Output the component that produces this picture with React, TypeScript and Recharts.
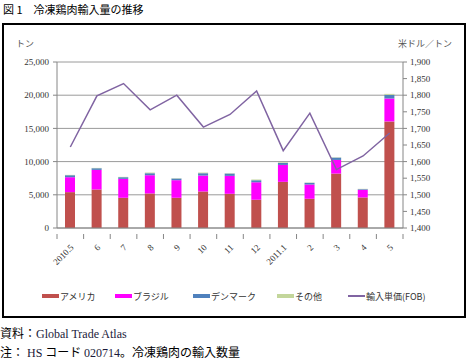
import React from 'react';
import { ComposedChart, Bar, Line, XAxis, YAxis, CartesianGrid, Legend } from 'recharts';

const months = ['2010.5', '6', '7', '8', '9', '10', '11', '12', '2011.1', '2', '3', '4', '5'];
const america = [5400, 5800, 4550, 5200, 4550, 5500, 5150, 4250, 6950, 4400, 8200, 4600, 16050];
const brazil = [2250, 2950, 2850, 2750, 2650, 2400, 2700, 2650, 2550, 2150, 2050, 1150, 3450];
const denmark = [300, 250, 250, 300, 250, 350, 350, 300, 300, 250, 350, 100, 550];
const others = [50, 50, 50, 100, 50, 100, 50, 100, 100, 50, 50, 50, 150];
const unitPrice = [1644, 1798, 1835, 1756, 1800, 1704, 1742, 1813, 1633, 1746, 1576, 1617, 1686];
const leftTicks = [0, 5000, 10000, 15000, 20000, 25000];
const rightTicks = [1400, 1450, 1500, 1550, 1600, 1650, 1700, 1750, 1800, 1850, 1900];

const data = months.map((m, i) => ({
  month: m,
  america: america[i],
  brazil: brazil[i],
  denmark: denmark[i],
  others: others[i],
  price: unitPrice[i],
}));

const JP = '"Noto Sans CJK JP", "Noto Sans", sans-serif';
const SERIF = '"Liberation Serif", "DejaVu Serif", serif';
const AX = '#868686';

const fmt = (v: number) => v.toLocaleString('en-US');

const XTick = (props: any) => {
  const { x, y, payload, index } = props;
  const half = payload && payload.offset ? payload.offset : 13.3;
  return (
    <g>
      <line x1={x - half} y1={y - 2} x2={x - half} y2={y + 3} stroke={AX} />
      {index === months.length - 1 ? (
        <line x1={x + half} y1={y - 2} x2={x + half} y2={y + 3} stroke={AX} />
      ) : null}
      <text
        x={x + 4}
        y={y + 12}
        textAnchor="end"
        transform={`rotate(-45, ${x + 4}, ${y + 12})`}
        fontSize={9}
        fontFamily={SERIF}
        fill="#333"
      >
        {payload.value}
      </text>
    </g>
  );
};

const legendItems = [
  { label: 'アメリカ', color: '#C0504D', type: 'rect', left: 38 },
  { label: 'ブラジル', color: '#FF00FF', type: 'rect', left: 111 },
  { label: 'デンマーク', color: '#4F81BD', type: 'rect', left: 189 },
  { label: 'その他', color: '#C3D69B', type: 'rect', left: 273 },
  { label: '輸入単価(FOB)', color: '#8064A2', type: 'line', left: 344 },
];

const LegendContent = () => (
  <div style={{ position: 'relative', height: 16, width: 462 }}>
    {legendItems.map((it) => (
      <div
        key={it.label}
        style={{
          position: 'absolute',
          left: it.left,
          top: 0,
          height: 16,
          display: 'flex',
          alignItems: 'center',
          fontFamily: JP,
          fontSize: 9,
          color: '#333',
          whiteSpace: 'nowrap',
        }}
      >
        <span
          style={{
            display: 'inline-block',
            width: 17,
            height: it.type === 'rect' ? 4 : 2,
            background: it.color,
            marginRight: 1,
          }}
        />
        {it.label}
      </div>
    ))}
  </div>
);

export default function App() {
  return (
    <div style={{ position: 'absolute', left: 0, top: 0, width: 471, height: 361, background: '#fff', overflow: 'hidden' }}>
      <div style={{ position: 'absolute', left: 3, top: 1, fontFamily: JP, fontSize: 11, color: '#000', whiteSpace: 'nowrap' }}>
        図 1　冷凍鶏肉輸入量の推移
      </div>
      <div
        style={{
          position: 'absolute',
          left: 2,
          top: 23,
          width: 460,
          height: 291,
          border: '2px solid #000',
        }}
      />
      <div style={{ position: 'absolute', left: 16, top: 37, fontFamily: JP, fontSize: 9, color: '#555' }}>トン</div>
      <div style={{ position: 'absolute', left: 398, top: 37, fontFamily: JP, fontSize: 9, color: '#555', whiteSpace: 'nowrap' }}>
        米ドル／トン
      </div>
      <div style={{ position: 'absolute', left: 4, top: 24 }}>
        <ComposedChart
          width={462}
          height={294}
          data={data}
          margin={{ top: 38, right: 13, left: 3, bottom: 14 }}
          barSize={10}
        >
          <CartesianGrid vertical={false} stroke="#9a9a9a" yAxisId="left" />
          <XAxis
            dataKey="month"
            tick={<XTick />}
            tickLine={false}
            axisLine={{ stroke: AX }}
            interval={0}
            height={60}
            yAxisId="left"
          />
          <YAxis
            yAxisId="left"
            domain={[0, 25000]}
            ticks={leftTicks}
            tickFormatter={fmt}
            width={50}
            tickSize={4}
            tickMargin={4}
            axisLine={{ stroke: AX }}
            tickLine={{ stroke: AX }}
            tick={{ fontSize: 9, fontFamily: SERIF, fill: '#333' }}
            interval={0}
          />
          <YAxis
            yAxisId="right"
            orientation="right"
            domain={[1400, 1900]}
            ticks={rightTicks}
            tickFormatter={fmt}
            width={50}
            tickSize={4}
            tickMargin={3}
            axisLine={{ stroke: AX }}
            tickLine={{ stroke: AX }}
            tick={{ fontSize: 9, fontFamily: SERIF, fill: '#333', textAnchor: 'start' }}
            interval={0}
          />
          <Legend verticalAlign="bottom" content={<LegendContent />} wrapperStyle={{ left: 0, width: 462 }} />
          <Bar yAxisId="left" dataKey="america" stackId="a" fill="#C0504D" isAnimationActive={false} />
          <Bar yAxisId="left" dataKey="brazil" stackId="a" fill="#FF00FF" isAnimationActive={false} />
          <Bar yAxisId="left" dataKey="denmark" stackId="a" fill="#4F81BD" isAnimationActive={false} />
          <Bar yAxisId="left" dataKey="others" stackId="a" fill="#C3D69B" isAnimationActive={false} />
          <Line
            yAxisId="right"
            dataKey="price"
            stroke="#8064A2"
            strokeWidth={1.5}
            dot={false}
            activeDot={false}
            type="linear"
            isAnimationActive={false}
          />
        </ComposedChart>
      </div>
      <div style={{ position: 'absolute', left: 0, top: 324, fontSize: 12, whiteSpace: 'nowrap', color: '#000' }}>
        <span style={{ fontFamily: JP }}>資料：</span>
        <span style={{ fontFamily: SERIF, color: '#1a1a3a' }}>Global Trade Atlas</span>
      </div>
      <div style={{ position: 'absolute', left: 0, top: 343, fontSize: 12, whiteSpace: 'nowrap', color: '#000' }}>
        <span style={{ fontFamily: JP }}>注：</span>
        <span style={{ fontFamily: SERIF, color: '#1a1a3a' }}> HS </span>
        <span style={{ fontFamily: JP }}>コード </span>
        <span style={{ fontFamily: SERIF, color: '#1a1a3a' }}>020714</span>
        <span style={{ fontFamily: JP }}>。冷凍鶏肉の輸入数量</span>
      </div>
    </div>
  );
}
